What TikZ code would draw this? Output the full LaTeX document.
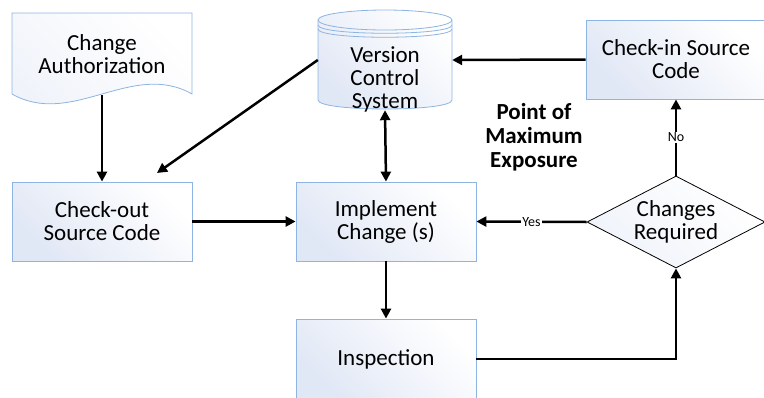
\documentclass[tikz,border=0pt]{standalone}
\usepackage{fontspec}
\setmainfont{Carlito}
\usetikzlibrary{arrows.meta,shapes.geometric}
\definecolor{boxline}{RGB}{141,180,226}
\definecolor{boxtint}{RGB}{224,231,245}
\tikzset{ b/.style = { rectangle % process box
        , draw = boxline
        , line width = 0.8pt
        , top color = boxtint
        , bottom color = white
        , shading angle = 135
        , minimum width = 180pt
        , minimum height = 79pt
        , align = center
        , font = \fontsize{23}{23}\selectfont
        }
        , q/.style = { diamond % decision
        , draw = black
        , line width = 0.8pt
        , top color = boxtint!50
        , bottom color = white
        , shading angle = 135
        , aspect = 2
        , inner sep = 0pt
        , minimum width = 178pt
        , minimum height = 92pt
        , align = center
        , font = \fontsize{23}{23}\selectfont
        }
        , t/.style = { rectangle % plain text
        , inner sep = 0pt
        , align = center
        , font = \fontsize{23}{23}\selectfont
        }
        }

\begin{document}
\begin{tikzpicture}[x=1pt, y=-1pt,
        edge_style/.style={draw=black, line width=2.5pt, -{Triangle[length=10pt,width=10pt]}},
        shape_line/.style={draw=boxline, line width=0.8pt},
        edge_node_style/.style={fill=white, inner sep=1pt, font=\fontsize{14}{14}\selectfont}]
        \useasboundingbox (0,0) rectangle (764,397);

        % document and data store
        \path [top color=boxtint!50, bottom color=white, shading angle=135]
            (12,13) -- (192,13) -- (192,94) .. controls (132,60) and (72,128) .. (12,94) -- cycle;
        \draw [shape_line] (12,94) -- (12,13) -- (192,13) -- (192,94) .. controls (132,60) and (72,128) .. (12,94);
        \node [t](auth) at (102,54) [minimum width=180pt, minimum height=82pt] {Change\\Authorization};

        \path [top color=boxtint, bottom color=white, shading angle=135]
            (318,20) -- (318,100) .. controls (318,112) and (452,112) .. (452,100) -- (452,20) .. controls (452,7) and (318,7) .. cycle;
        \draw [shape_line] (318,20) -- (318,100) .. controls (318,112) and (452,112) .. (452,100) -- (452,20);
        \draw [shape_line] (385,20) ellipse [x radius=67pt, y radius=10pt];
        \draw [shape_line] (318,25) .. controls (318,36) and (452,36) .. (452,25);
        \draw [shape_line] (318,29) .. controls (318,40) and (452,40) .. (452,29);
        \node [t](vcs) at (385,60) [minimum width=134pt, minimum height=100pt] {};
        \node [t] at (385,79) {Version\\Control\\System};

        \node [b](checkin) at (676,59.5) {Check-in Source\\Code};
        \node [b](checkout) at (102,221.5) {Check-out\\Source Code};
        \node [b](impl) at (386,221.5) {Implement\\Change (s)};
        \node [q](decide) at (676,222) {Changes\\Required};
        \node [b](inspect) at (386,359) [minimum height=80pt] {Inspection};
        \node [t,font=\fontsize{23}{24}\selectfont\bfseries](expo) at (534,137) {Point of\\Maximum\\Exposure};

        \coordinate (coin) at (157,173);
        \coordinate (bend) at (676,359);

        \draw [edge_style] (auth.south) -- (checkout.north);
        \draw [edge_style] (vcs.west) -- (coin);
        \draw [edge_style] (checkin.west) -- (vcs.east);
        \draw [edge_style, {Triangle[length=10pt,width=10pt]}-{Triangle[length=10pt,width=10pt]}] (impl.north) -- (vcs.south);
        \draw [edge_style] (checkout.east) -- (impl.west);
        \draw [edge_style] (decide.west) -- node [edge_node_style] {Yes} (impl.east);
        \draw [edge_style] (decide.north) -- node [edge_node_style] {No} (checkin.south);
        \draw [edge_style] (impl.south) -- (inspect.north);
        \draw [edge_style] (inspect.east) -- (bend) -- (decide.south);
\end{tikzpicture}
\end{document}
